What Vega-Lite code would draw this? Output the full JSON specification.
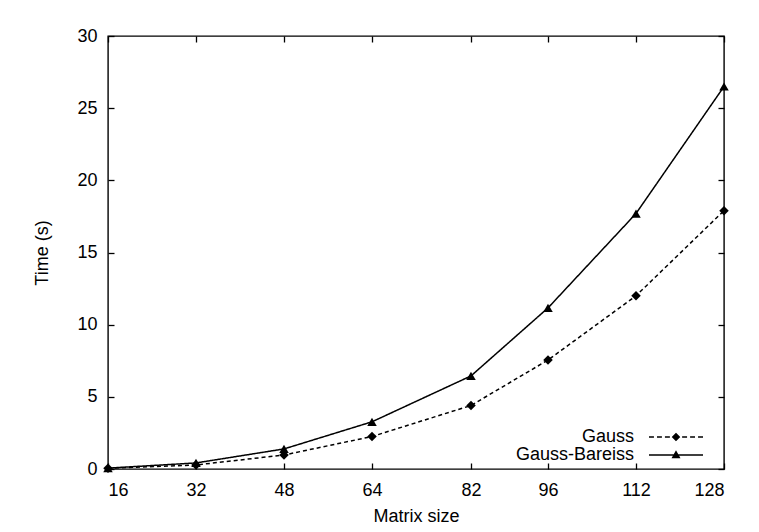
{
  "$schema": "https://vega.github.io/schema/vega-lite/v6.json",
  "autosize": {"type": "none"},
  "padding": {"left": 108, "top": 36, "right": 35, "bottom": 63},
  "width": 616,
  "height": 433,
  "background": "white",
  "config": {
    "view": {"stroke": "black", "strokeWidth": 1.4},
    "font": "Liberation Sans",
    "axis": {
      "grid": false,
      "domain": false,
      "tickColor": "black",
      "tickSize": -6,
      "tickWidth": 1.3,
      "labelFont": "Liberation Sans",
      "labelFontSize": 18,
      "labelColor": "black",
      "titleFont": "Liberation Sans",
      "titleFontSize": 18,
      "titleFontWeight": "normal",
      "titleColor": "black"
    }
  },
  "data": {
    "values": [
      {"size": 16, "time": 0.05, "series": "Gauss"},
      {"size": 32, "time": 0.28, "series": "Gauss"},
      {"size": 48, "time": 0.97, "series": "Gauss"},
      {"size": 64, "time": 2.25, "series": "Gauss"},
      {"size": 82, "time": 4.4, "series": "Gauss"},
      {"size": 96, "time": 7.55, "series": "Gauss"},
      {"size": 112, "time": 12.0, "series": "Gauss"},
      {"size": 128, "time": 17.9, "series": "Gauss"},
      {"size": 16, "time": 0.06, "series": "Gauss-Bareiss"},
      {"size": 32, "time": 0.42, "series": "Gauss-Bareiss"},
      {"size": 48, "time": 1.39, "series": "Gauss-Bareiss"},
      {"size": 64, "time": 3.27, "series": "Gauss-Bareiss"},
      {"size": 82, "time": 6.45, "series": "Gauss-Bareiss"},
      {"size": 96, "time": 11.16, "series": "Gauss-Bareiss"},
      {"size": 112, "time": 17.7, "series": "Gauss-Bareiss"},
      {"size": 128, "time": 26.5, "series": "Gauss-Bareiss"}
    ]
  },
  "resolve": {"axis": {"x": "independent", "y": "independent"}, "scale": {"shape": "independent"}},
  "layer": [
    {
      "mark": {"type": "line", "color": "black", "strokeWidth": 1.5},
      "encoding": {
        "x": {
          "field": "size", "type": "quantitative",
          "scale": {"domain": [16, 128], "nice": false, "zero": false},
          "axis": {"values": [16, 32, 48, 64, 82, 96, 112, 128], "title": "Matrix size", "labelPadding": 18, "titlePadding": 8}
        },
        "y": {
          "field": "time", "type": "quantitative",
          "scale": {"domain": [0, 30], "nice": false},
          "axis": {"values": [0, 5, 10, 15, 20, 25, 30], "title": "Time (s)", "labelPadding": 17, "titlePadding": 25}
        },
        "strokeDash": {
          "field": "series", "type": "nominal",
          "scale": {"domain": ["Gauss", "Gauss-Bareiss"], "range": [[4, 3], [1, 0]]},
          "legend": null
        }
      }
    },
    {
      "mark": {"type": "point", "filled": true, "color": "black", "size": 90, "opacity": 1},
      "encoding": {
        "x": {"field": "size", "type": "quantitative", "axis": null},
        "y": {"field": "time", "type": "quantitative", "axis": null},
        "shape": {
          "field": "series", "type": "nominal",
          "scale": {"domain": ["Gauss", "Gauss-Bareiss"], "range": ["diamond", "triangle-up"]},
          "legend": null
        }
      }
    },
    {
      "transform": [{"filter": "false"}],
      "mark": {"type": "point", "filled": true, "color": "black", "opacity": 1},
      "encoding": {
        "x": {"field": "size", "type": "quantitative", "axis": null},
        "y": {"field": "time", "type": "quantitative", "axis": null},
        "shape": {
          "field": "series", "type": "nominal",
          "scale": {
            "domain": ["Gauss", "Gauss-Bareiss"],
            "range": [
              "M-6,-0.16H-4.9V0.16H-6ZM-4.23,-0.16H-3.13V0.16H-4.23ZM-2.46,-0.16H-1.36V0.16H-2.46ZM1.36,-0.16H2.46V0.16H1.36ZM3.13,-0.16H4.23V0.16H3.13ZM4.9,-0.16H6V0.16H4.9ZM0,-0.95L0.95,0L0,0.95L-0.95,0Z",
              "M-6,-0.16H6V0.16H-6ZM0,-1.05L1,0.7L-1,0.7Z"
            ]
          },
          "legend": {
            "title": null,
            "orient": "none",
            "legendX": 559,
            "legendY": 392,
            "padding": 0,
            "rowPadding": 0,
            "symbolSize": 81,
            "symbolStrokeWidth": 0,
            "symbolFillColor": "black",
            "symbolOpacity": 1,
            "labelAlign": "right",
            "labelOffset": -51,
            "labelFont": "Liberation Sans",
            "labelFontSize": 18,
            "labelColor": "black"
          }
        }
      }
    },
    {
      "mark": {"type": "point", "opacity": 0},
      "encoding": {
        "x": {
          "field": "size", "type": "quantitative",
          "axis": {"orient": "top", "values": [16, 32, 48, 64, 82, 96, 112, 128], "labels": false, "title": null}
        },
        "y": {
          "field": "time", "type": "quantitative",
          "axis": {"orient": "right", "values": [0, 5, 10, 15, 20, 25, 30], "labels": false, "title": null}
        }
      }
    }
  ]
}
